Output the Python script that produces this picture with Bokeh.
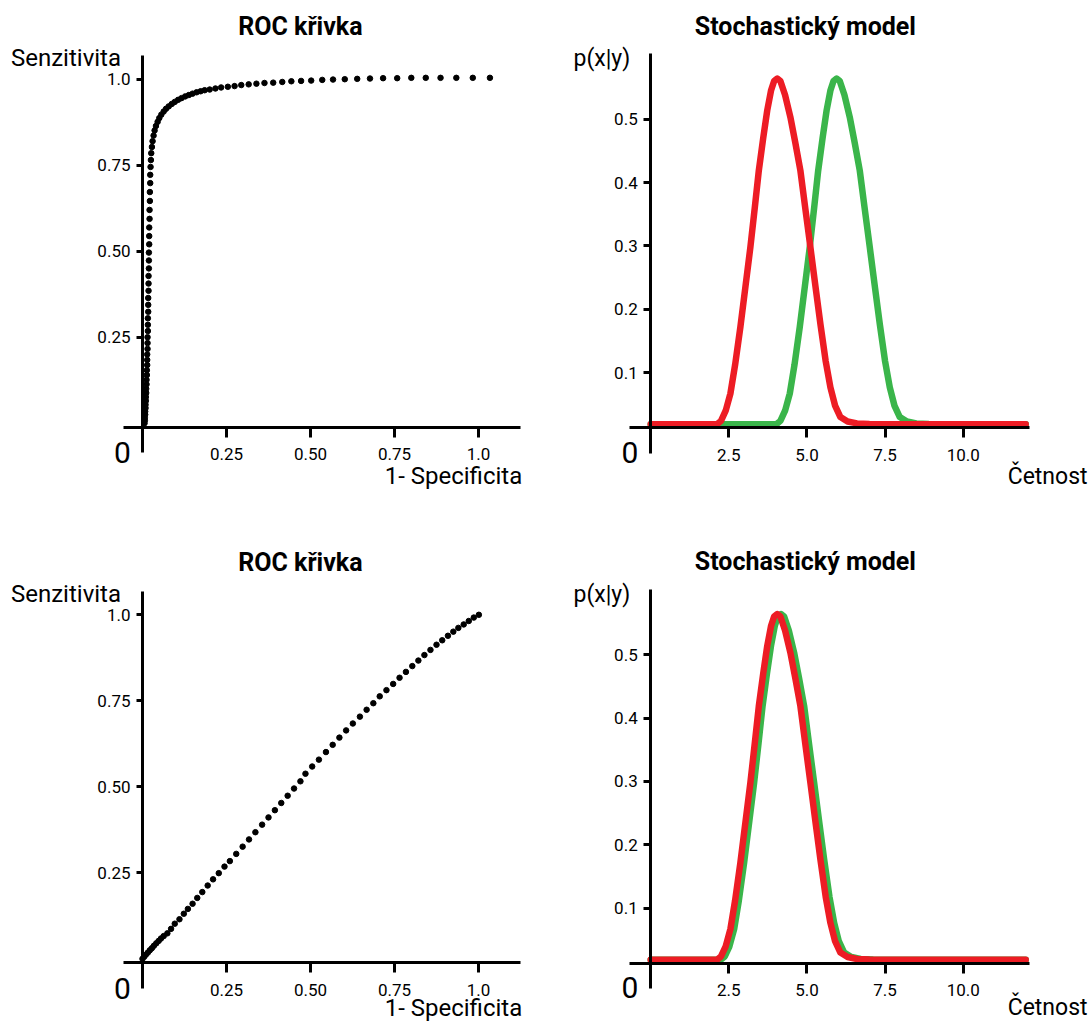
from bokeh.plotting import figure
from bokeh.models import LinearAxis, FixedTicker, Range1d
from bokeh.layouts import column, row
from bokeh.embed import file_html
from bokeh.resources import INLINE
from bokeh.core.properties import value

FONT = "Roboto"
RED = "#ED1C24"
GREEN = "#3AB54A"

# ---------------- data ----------------
roc1_x = [0.006, 0.007, 0.007, 0.008, 0.008, 0.009, 0.009, 0.010, 0.010, 0.011, 0.011, 0.012, 0.012, 0.013,
          0.013, 0.014, 0.014, 0.014, 0.015, 0.015, 0.015, 0.016, 0.016, 0.016, 0.017, 0.017, 0.017, 0.018,
          0.018, 0.018, 0.019, 0.019, 0.019, 0.020, 0.020, 0.020, 0.021, 0.021, 0.022, 0.022, 0.023, 0.023,
          0.024, 0.025, 0.026, 0.028, 0.030, 0.033, 0.036, 0.040, 0.045, 0.050, 0.056, 0.063, 0.070, 0.078,
          0.087, 0.096, 0.106, 0.116, 0.127, 0.138, 0.149, 0.161, 0.173,
          0.185, 0.200, 0.217, 0.234, 0.254, 0.274, 0.294, 0.316, 0.339, 0.363, 0.389, 0.416, 0.443, 0.472,
          0.502, 0.535, 0.567, 0.602, 0.639, 0.677, 0.716, 0.758, 0.800, 0.843, 0.887, 0.934, 0.983, 1.034]
roc1_y = [0.0, 0.008, 0.016, 0.025, 0.034, 0.044, 0.054, 0.065, 0.076, 0.088, 0.100, 0.113, 0.126, 0.140,
          0.154, 0.169, 0.184, 0.200, 0.216, 0.233, 0.250, 0.268, 0.286, 0.305, 0.324, 0.344, 0.364, 0.385,
          0.406, 0.428, 0.450, 0.473, 0.496, 0.520, 0.544, 0.569, 0.594, 0.620, 0.646, 0.672, 0.698, 0.722,
          0.745, 0.765, 0.785, 0.803, 0.820, 0.836, 0.851, 0.864, 0.876, 0.887, 0.897, 0.906, 0.914, 0.921,
          0.928, 0.934, 0.940, 0.945, 0.950, 0.954, 0.958, 0.962, 0.965,
          0.968, 0.970, 0.973, 0.976, 0.978, 0.980, 0.983, 0.985, 0.987, 0.989, 0.990, 0.992, 0.994, 0.995,
          0.996, 0.998, 0.999, 1.000, 1.001, 1.002, 1.003, 1.003, 1.004, 1.004, 1.004, 1.004, 1.004, 1.004]

roc2_x = [0.0, 0.005, 0.010, 0.016, 0.022, 0.028, 0.034, 0.041, 0.048, 0.055, 0.063, 0.074, 0.085, 0.096,
          0.110, 0.123, 0.135, 0.149, 0.163, 0.178, 0.194, 0.210, 0.227, 0.244, 0.260, 0.279, 0.298, 0.317,
          0.336, 0.356, 0.375, 0.394, 0.413, 0.432, 0.451, 0.470, 0.485, 0.505, 0.525, 0.546, 0.566, 0.586,
          0.606, 0.626, 0.647, 0.667, 0.687, 0.706, 0.726, 0.746, 0.765, 0.784, 0.803, 0.821, 0.839, 0.857,
          0.875, 0.892, 0.909, 0.925, 0.940, 0.956, 0.971, 0.986, 1.001]
roc2_y = [0.0, 0.006, 0.012, 0.018, 0.025, 0.031, 0.038, 0.045, 0.052, 0.059, 0.066, 0.074, 0.087, 0.102,
          0.115, 0.131, 0.145, 0.160, 0.177, 0.194, 0.213, 0.231, 0.249, 0.268, 0.284, 0.305, 0.326, 0.347,
          0.368, 0.390, 0.411, 0.432, 0.453, 0.474, 0.495, 0.516, 0.538, 0.559, 0.579, 0.601, 0.622, 0.643,
          0.664, 0.684, 0.704, 0.724, 0.743, 0.763, 0.781, 0.799, 0.817, 0.834, 0.851, 0.867, 0.883, 0.898,
          0.913, 0.926, 0.939, 0.951, 0.962, 0.972, 0.982, 0.992, 1.000]

red1_x = [0.0, 1.0, 2.0, 2.13, 2.25, 2.4, 2.55, 2.7, 2.87, 3.03, 3.19, 3.33, 3.46, 3.6, 3.73, 3.85, 3.95,
          4.05, 4.15, 4.3, 4.47, 4.63, 4.79, 4.95, 5.11, 5.27, 5.43, 5.6, 5.75, 5.9, 6.07, 6.3, 6.6, 7.0,
          8.0, 10.0, 12.0]
red1_y = [0.0186, 0.0186, 0.0186, 0.019, 0.024, 0.040, 0.067, 0.112, 0.172, 0.235, 0.298, 0.360, 0.419,
          0.470, 0.514, 0.545, 0.560, 0.564, 0.560, 0.538, 0.503, 0.462, 0.419, 0.358, 0.298, 0.237, 0.177,
          0.118, 0.077, 0.048, 0.030, 0.023, 0.020, 0.019, 0.0186, 0.0186, 0.0186]
green1_x = [0.0, 2.0, 3.9, 4.03, 4.15, 4.3, 4.45, 4.6, 4.77, 4.93, 5.09, 5.23, 5.36, 5.5, 5.63, 5.75, 5.85,
            5.95, 6.05, 6.2, 6.37, 6.53, 6.69, 6.85, 7.01, 7.17, 7.33, 7.5, 7.65, 7.8, 7.97, 8.2, 8.5, 8.9,
            10.0, 12.0]
green1_y = [0.0186, 0.0186, 0.0186, 0.019, 0.024, 0.040, 0.067, 0.112, 0.172, 0.235, 0.298, 0.360, 0.419,
            0.470, 0.514, 0.545, 0.560, 0.564, 0.560, 0.538, 0.503, 0.462, 0.419, 0.358, 0.298, 0.237,
            0.177, 0.118, 0.077, 0.048, 0.030, 0.023, 0.020, 0.019, 0.0186, 0.0186]

red2_x = red1_x
red2_y = red1_y
green2_x = [0.0, 1.0, 2.0, 2.25, 2.37, 2.52, 2.67, 2.82, 2.99, 3.15, 3.31, 3.45, 3.58, 3.72, 3.85, 3.97,
            4.07, 4.17, 4.27, 4.42, 4.59, 4.75, 4.91, 5.07, 5.23, 5.39, 5.55, 5.72, 5.87, 6.02, 6.19, 6.42,
            6.72, 7.12, 8.0, 10.0, 12.0]
green2_y = red1_y

roc_ticks = [0.25, 0.5, 0.75, 1.0]
roc_labels = ["0.25", "0.50", "0.75", "1.0"]
pdf_xticks = [2.5, 5.0, 7.5, 10.0]
pdf_xlabels = ["2.5", "5.0", "7.5", "10.0"]
pdf_yticks = [0.1, 0.2, 0.3, 0.4, 0.5]
pdf_ylabels = ["0.1", "0.2", "0.3", "0.4", "0.5"]

roc_title = "ROC křivka"
pdf_title = "Stochastický model"


def base_fig(w, h, x0, x1, y0, y1):
    p = figure(width=w, height=h, x_range=Range1d(x0, x1), y_range=Range1d(y0, y1),
               output_backend="svg", toolbar_location=None,
               x_axis_location=None, y_axis_location=None,
               min_border=0, outline_line_color=None)
    p.grid.visible = False
    return p


def add_axes(p, xfix, xb, xt, xl, xtick_out, yfix, yb, yt, yl, ytick_out):
    common = dict(axis_line_width=3, axis_line_color="black", major_tick_line_width=3,
                  major_tick_line_color="black", major_tick_in=0, minor_tick_in=0, minor_tick_out=0,
                  major_label_text_font=FONT, major_label_text_font_size="17px",
                  major_label_text_color="black")
    xa = LinearAxis(fixed_location=xfix, bounds=xb, ticker=FixedTicker(ticks=xt),
                    major_tick_out=xtick_out, major_label_standoff=11,
                    major_label_overrides=dict(zip(xt, xl)), **common)
    ya = LinearAxis(fixed_location=yfix, bounds=yb, ticker=FixedTicker(ticks=yt),
                    major_tick_out=ytick_out, major_label_standoff=6,
                    major_label_overrides=dict(zip(yt, yl)), **common)
    p.add_layout(xa, "below")
    p.add_layout(ya, "left")


def add_text(p, x, y, t, size, align, style="normal"):
    p.text(x=[x], y=[y], text=[t], text_font=value(FONT), text_font_size=value(size),
           text_font_style=style, text_align=align, text_baseline="alphabetic", text_color="black")


def roc_panel(h, ytop, ybot, xs, ys, ylab_bottom):
    p = base_fig(548, h, -0.4226, 1.2083, ybot, ytop)
    add_axes(p, -0.012, (-0.0574, 1.125), roc_ticks, roc_labels, 10,
             0.0, (-0.086, 1.069), roc_ticks, roc_labels, 6)
    p.scatter(xs, ys, size=5.5, color="black")
    add_text(p, 0.470, 1.1532, roc_title, "25px", "center", "bold")
    add_text(p, -0.3914, 1.0603, "Senzitivita", "24px", "left")
    add_text(p, 1.130, ylab_bottom, "1- Specificita", "24px", "right")
    add_text(p, -0.0595, -0.0851, "0", "30px", "center")
    return p


def pdf_panel(h, ytop, ybot, rx, ry, gx, gy, ylab_bottom):
    p = base_fig(540, h, -3.2704, 14.0096, ybot, ytop)
    add_axes(p, 0.0135, (-0.678, 12.12), pdf_xticks, pdf_xlabels, 10,
             0.0, (-0.027, 0.603), pdf_yticks, pdf_ylabels, 7)
    p.line(gx, gy, line_width=6.5, color=GREEN, line_join="round", line_cap="round")
    p.line(rx, ry, line_width=6.5, color=RED, line_join="round", line_cap="round")
    add_text(p, 4.95, 0.6461, pdf_title, "25px", "center", "bold")
    add_text(p, -2.47, 0.5956, "p(x|y)", "23px", "left")
    add_text(p, 13.98, ylab_bottom, "Četnost", "23px", "right")
    add_text(p, -0.662, -0.0258, "0", "30px", "center")
    return p


tl = roc_panel(544, 1.2288, -0.3526, roc1_x, roc1_y, -0.1547)
tr = pdf_panel(544, 0.6871, -0.1710, red1_x, red1_y, green1_x, green1_y, -0.0637)
bl = roc_panel(480, 1.2044, -0.1910, roc2_x, roc2_y, -0.1416)
br = pdf_panel(480, 0.6737, -0.0834, red2_x, red2_y, green2_x, green2_y, -0.0566)

layout = column(row(tl, tr), row(bl, br))
open("out.html", "w").write(file_html(layout, INLINE))
